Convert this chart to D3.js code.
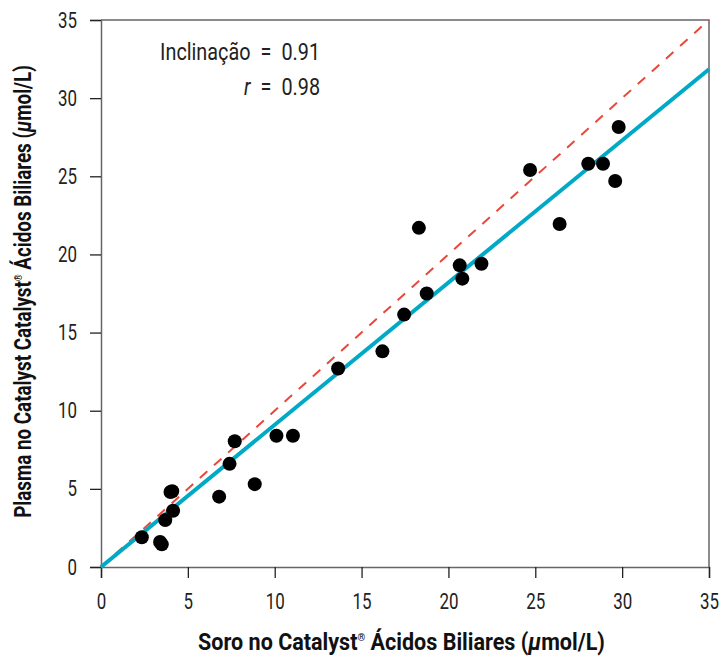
<!DOCTYPE html>
<html>
<head>
<meta charset="utf-8">
<script src="https://cdn.jsdelivr.net/npm/d3@7"></script>
<style>
  body { margin: 0; background: #fff; }
  svg text { font-family: "Roboto", "Liberation Sans", sans-serif; }
</style>
</head>
<body>
<div id="chart"></div>
<script>
// Serum (x) vs plasma (y) bile acids, umol/L
const serum  = [2.35, 3.4, 3.5, 3.7, 4.0, 4.1, 4.15, 6.8, 7.4, 7.7, 8.85, 10.1, 11.05, 13.65, 16.2, 17.45, 18.3, 18.75, 20.65, 20.8, 21.9, 24.7, 26.4, 28.05, 28.9, 29.6, 29.8];
const plasma = [1.9, 1.6, 1.45, 3.0, 4.8, 4.85, 3.6, 4.5, 6.6, 8.05, 5.3, 8.4, 8.4, 12.7, 13.8, 16.15, 21.7, 17.5, 19.3, 18.45, 19.4, 25.4, 21.95, 25.8, 25.8, 24.7, 28.15];
const ticks = [0, 5, 10, 15, 20, 25, 30, 35];
const slope = 0.91;
const identity = [0, 35];

const config = { width: 720, height: 656, margin: { top: 20, right: 11, bottom: 89, left: 101 } };
const margin = config.margin;
const width = config.width - margin.left - margin.right;
const height = config.height - margin.top - margin.bottom;

const svg = d3.select('#chart')
    .append('svg')
    .attr('width', config.width)
    .attr('height', config.height)
    .append('g')
    .attr('transform', `translate(${margin.left},${margin.top})`);

const x = d3.scaleLinear().domain([0, 35]).range([0, width]);
const y = d3.scaleLinear().domain([0, 35]).range([height, 0]);

const axisColor = '#666';

// condensed look for tick labels
function narrow(sel, perChar) {
    sel.each(function() {
        const t = d3.select(this);
        t.attr('textLength', t.text().length * perChar).attr('lengthAdjust', 'spacingAndGlyphs');
    });
}

// squeeze a whole text horizontally so it spans `target` px
function squeeze(text, target, place) {
    const w = text.node().getComputedTextLength();
    const s = target / w;
    text.attr('transform', `${place} scale(${s},1)`);
    return s;
}

// Frame (top + right)
svg.append('path')
    .attr('d', `M0,0H${width}V${height}`)
    .attr('fill', 'none')
    .attr('stroke', axisColor)
    .attr('stroke-width', 1.5);

// X axis
const gx = svg.append('g')
    .attr('transform', `translate(0,${height})`)
    .call(d3.axisBottom(x).tickValues(ticks).tickSize(11).tickPadding(15));
// Y axis
const gy = svg.append('g')
    .call(d3.axisLeft(y).tickValues(ticks).tickSize(11).tickPadding(13));

[gx, gy].forEach(g => {
    g.select('.domain').attr('stroke', axisColor).attr('stroke-width', 1.5);
    g.selectAll('.tick line').attr('stroke', '#222').attr('stroke-width', 1.3);
    g.selectAll('.tick text').attr('fill', '#222').style('font-size', '22px').call(narrow, 9.5);
});

// Identity line (dashed)
svg.append('line')
    .attr('x1', x(identity[0])).attr('y1', y(identity[0]))
    .attr('x2', x(identity[1])).attr('y2', y(identity[1]))
    .attr('stroke', '#e8483a')
    .attr('stroke-width', 2)
    .attr('stroke-dasharray', '10,9');

// Regression line
svg.append('line')
    .attr('x1', x(0)).attr('y1', y(0))
    .attr('x2', x(35)).attr('y2', y(slope * 35))
    .attr('stroke', '#00a9c5')
    .attr('stroke-width', 4);

// Points
svg.selectAll('circle.pt')
    .data(serum.map((s, i) => ({ s, p: plasma[i] })))
    .enter().append('circle')
    .attr('class', 'pt')
    .attr('cx', d => x(d.s))
    .attr('cy', d => y(d.p))
    .attr('r', 7)
    .attr('fill', '#000');

// Annotation
const lt = svg.append('text')
    .attr('text-anchor', 'end')
    .style('font-size', '24px')
    .attr('fill', '#222')
    .text('Inclinação\u2002=\u20020.91');
const s1 = squeeze(lt, 160, 'translate(219,40)');
const rt = svg.append('text')
    .attr('text-anchor', 'end')
    .style('font-size', '24px')
    .attr('fill', '#222');
rt.append('tspan').style('font-style', 'italic').text('r');
rt.append('tspan').text('\u2002=\u20020.98');
rt.attr('transform', `translate(219,75) scale(${s1},1)`);

// X axis title
const xt = svg.append('text')
    .attr('text-anchor', 'middle')
    .style('font-size', '24px')
    .style('font-weight', 'bold')
    .attr('fill', '#111');
xt.append('tspan').text('Soro no Catalyst');
xt.append('tspan').attr('dy', -9).style('font-size', '11px').text('®');
xt.append('tspan').attr('dy', 9).text(' Ácidos Biliares (');
xt.append('tspan').style('font-style', 'italic').text('μ');
xt.append('tspan').text('mol/L)');
squeeze(xt, 407, `translate(300.5,${height + 83})`);

// Y axis title
const yt = svg.append('text')
    .attr('text-anchor', 'middle')
    .style('font-size', '24px')
    .style('font-weight', 'bold')
    .attr('fill', '#111');
yt.append('tspan').text('Plasma no Catalyst Catalyst');
yt.append('tspan').attr('dy', -9).style('font-size', '11px').text('®');
yt.append('tspan').attr('dy', 9).text(' Ácidos Biliares (');
yt.append('tspan').style('font-style', 'italic').text('μ');
yt.append('tspan').text('mol/L)');
squeeze(yt, 453, 'translate(-70,271.5) rotate(-90)');
</script>
</body>
</html>
